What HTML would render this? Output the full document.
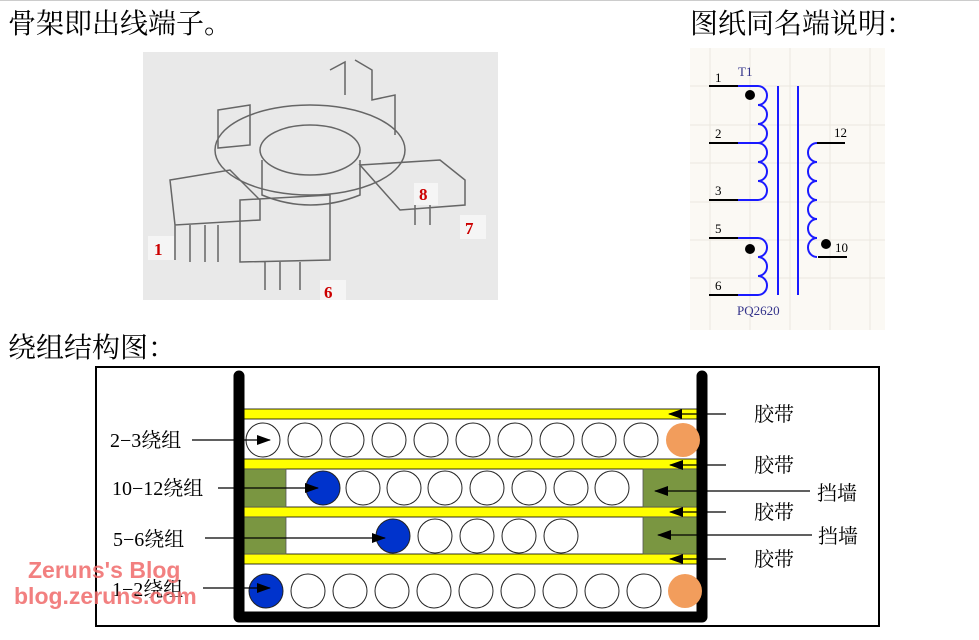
<!DOCTYPE html>
<html><head><meta charset="utf-8"><style>
body{margin:0;background:#fff;width:979px;height:640px;overflow:hidden;}
svg{display:block}
text{font-family:"Liberation Serif","Noto Serif CJK SC",serif;}
</style></head><body>
<svg width="979" height="640" viewBox="0 0 979 640" xmlns="http://www.w3.org/2000/svg">
<defs>
<marker id="ah" markerWidth="14" markerHeight="10" refX="13" refY="5" orient="auto" markerUnits="userSpaceOnUse"><path d="M0,0 L14,5 L0,10 z" fill="#000"/></marker>
</defs>
<line x1="0" y1="0.5" x2="979" y2="0.5" stroke="#ccc"/>
<text x="8" y="33" font-size="28">骨架即出线端子。</text>
<text x="690" y="33" font-size="28">图纸同名端说明：</text>
<text x="8" y="357" font-size="28">绕组结构图：</text>

<!-- photo -->
<rect x="143" y="52" width="355" height="248" fill="#e9e9e9"/>
<g fill="none" stroke="#666" stroke-width="1.5">
<ellipse cx="310" cy="150" rx="95" ry="45"/>
<ellipse cx="310" cy="150" rx="50" ry="25"/>
<path d="M262,160 L262,195 Q310,215 360,195 L360,160"/>
<path d="M218,110 L250,105 L250,145 L218,148 z M330,70 L345,62 L345,95 M355,60 L372,70 L372,100 L395,95 L395,135"/>
<path d="M170,180 L230,170 L260,200 L260,220 L175,225 z M175,225 L175,260 M190,225 L190,262 M205,225 L205,262 M218,225 L218,262"/>
<path d="M240,200 L330,195 L330,260 L240,262 z M265,262 L265,290 M280,262 L280,290 M300,262 L300,290"/>
<path d="M360,165 L440,160 L465,180 L465,205 L400,210 z M415,205 L415,225 M430,205 L430,225"/>
</g>
<rect x="148" y="236" width="26" height="24" fill="#f5f5f5"/><text x="154" y="255" font-size="17" fill="#c00" font-weight="bold">1</text>
<rect x="320" y="280" width="26" height="20" fill="#f5f5f5"/><text x="324" y="298" font-size="17" fill="#c00" font-weight="bold">6</text>
<rect x="460" y="215" width="26" height="24" fill="#f5f5f5"/><text x="465" y="234" font-size="17" fill="#c00" font-weight="bold">7</text>
<rect x="414" y="183" width="24" height="22" fill="#f5f5f5"/><text x="419" y="200" font-size="17" fill="#c00" font-weight="bold">8</text>

<!-- schematic -->
<rect x="690" y="48" width="195" height="282" fill="#fbf9f4"/>
<g stroke="#ebe7df" stroke-width="1">
<line x1="710" y1="48" x2="710" y2="330"/><line x1="750" y1="48" x2="750" y2="330"/><line x1="790" y1="48" x2="790" y2="330"/><line x1="830" y1="48" x2="830" y2="330"/><line x1="870" y1="48" x2="870" y2="330"/>
<line x1="690" y1="86" x2="885" y2="86"/><line x1="690" y1="125" x2="885" y2="125"/><line x1="690" y1="163" x2="885" y2="163"/><line x1="690" y1="202" x2="885" y2="202"/><line x1="690" y1="240" x2="885" y2="240"/><line x1="690" y1="278" x2="885" y2="278"/>
</g>
<g stroke="#000" stroke-width="2">
<line x1="709" y1="86" x2="738" y2="86"/><line x1="709" y1="143" x2="738" y2="143"/><line x1="709" y1="200" x2="738" y2="200"/><line x1="709" y1="238" x2="738" y2="238"/><line x1="709" y1="295" x2="738" y2="295"/>
<line x1="817" y1="143" x2="845" y2="143"/><line x1="818" y1="257" x2="847" y2="257"/>
</g>
<g fill="none" stroke="#1a1aff" stroke-width="2">
<path d="M738,86 L758,86 a9,9.5 0 0 1 0,19 a9,9.5 0 0 1 0,19 a9,9.5 0 0 1 0,19 a9,9.5 0 0 1 0,19 a9,9.5 0 0 1 0,19 a9,9.5 0 0 1 0,19 L738,200 M738,143 L758,143"/>
<path d="M738,238 L758,238 a9,9.5 0 0 1 0,19 a9,9.5 0 0 1 0,19 a9,9.5 0 0 1 0,19 L738,295"/>
<path d="M817,143 a9,9.5 0 0 0 0,19 a9,9.5 0 0 0 0,19 a9,9.5 0 0 0 0,19 a9,9.5 0 0 0 0,19 a9,9.5 0 0 0 0,19 a9,9.5 0 0 0 0,19"/>
<line x1="778" y1="86" x2="778" y2="295"/><line x1="798" y1="86" x2="798" y2="295"/>
</g>
<circle cx="750" cy="95" r="5" fill="#000"/><circle cx="750" cy="249" r="5" fill="#000"/><circle cx="826" cy="244" r="5" fill="#000"/>
<g font-size="13" fill="#000"><text x="715" y="82">1</text><text x="715" y="138">2</text><text x="715" y="195">3</text><text x="715" y="233">5</text><text x="715" y="290">6</text><text x="834" y="137">12</text><text x="835" y="252">10</text></g>
<text x="738" y="76" font-size="13" fill="#33338a">T1</text>
<text x="737" y="315" font-size="13" fill="#33338a">PQ2620</text>

<!-- winding diagram -->
<rect x="96" y="367" width="783" height="259" fill="#fff" stroke="#000" stroke-width="2"/>
<g stroke="#000" stroke-width="0.8">
<rect x="244" y="409" width="453" height="10" fill="#ff0"/>
<rect x="244" y="459" width="453" height="10" fill="#ff0"/>
<rect x="244" y="507" width="453" height="10" fill="#ff0"/>
<rect x="244" y="554" width="453" height="10" fill="#ff0"/>
</g>
<g fill="#7a9641" stroke="#555" stroke-width="0.8">
<rect x="244" y="469" width="42" height="38"/><rect x="244" y="517" width="42" height="37"/>
<rect x="643" y="469" width="54" height="38"/><rect x="643" y="517" width="54" height="37"/>
</g>
<path d="M239,376 L239,617 L702,617 L702,376" fill="none" stroke="#000" stroke-width="11" stroke-linecap="round" stroke-linejoin="round"/>
<g fill="#fff" stroke="#222" stroke-width="1">
<circle cx="263" cy="440" r="17"/><circle cx="305" cy="440" r="17"/><circle cx="347" cy="440" r="17"/><circle cx="389" cy="440" r="17"/><circle cx="431" cy="440" r="17"/><circle cx="473" cy="440" r="17"/><circle cx="515" cy="440" r="17"/><circle cx="557" cy="440" r="17"/><circle cx="599" cy="440" r="17"/><circle cx="641" cy="440" r="17"/>
<circle cx="683" cy="440" r="17" fill="#f29d5c" stroke="none"/>
<circle cx="323" cy="488" r="17" fill="#0033cc"/><circle cx="363" cy="488" r="17"/><circle cx="404" cy="488" r="17"/><circle cx="445" cy="488" r="17"/><circle cx="487" cy="488" r="17"/><circle cx="529" cy="488" r="17"/><circle cx="571" cy="488" r="17"/><circle cx="612" cy="488" r="17"/>
<circle cx="393" cy="536" r="17" fill="#0033cc"/><circle cx="435" cy="536" r="17"/><circle cx="477" cy="536" r="17"/><circle cx="519" cy="536" r="17"/><circle cx="561" cy="536" r="17"/>
<circle cx="266" cy="591" r="17" fill="#0033cc"/><circle cx="308" cy="591" r="17"/><circle cx="350" cy="591" r="17"/><circle cx="392" cy="591" r="17"/><circle cx="434" cy="591" r="17"/><circle cx="476" cy="591" r="17"/><circle cx="518" cy="591" r="17"/><circle cx="560" cy="591" r="17"/><circle cx="602" cy="591" r="17"/><circle cx="644" cy="591" r="17"/>
<circle cx="685" cy="591" r="17" fill="#f29d5c" stroke="none"/>
</g>
<g stroke="#000" stroke-width="1.2" marker-end="url(#ah)">
<line x1="192" y1="440" x2="270" y2="440"/>
<line x1="218" y1="488" x2="318" y2="488"/>
<line x1="205" y1="538" x2="385" y2="538"/>
<line x1="203" y1="588" x2="270" y2="588"/>
<line x1="726" y1="414" x2="669" y2="414"/>
<line x1="726" y1="465" x2="670" y2="465"/>
<line x1="726" y1="512" x2="670" y2="512"/>
<line x1="726" y1="559" x2="670" y2="559"/>
<line x1="810" y1="491" x2="655" y2="491"/>
<line x1="812" y1="535" x2="658" y2="535"/>
</g>
<g font-size="20">
<text x="110" y="447">2−3绕组</text>
<text x="112" y="495">10−12绕组</text>
<text x="113" y="546">5−6绕组</text>
<text x="112" y="596">1−2绕组</text>
<text x="754" y="421">胶带</text><text x="754" y="472">胶带</text><text x="754" y="519">胶带</text><text x="754" y="566">胶带</text>
<text x="817" y="500">挡墙</text><text x="818" y="543">挡墙</text>
</g>
<g font-weight="bold" font-size="23" fill="#f06b6b" opacity="0.85">
<text x="28" y="578" style="font-family:'Liberation Sans',sans-serif">Zeruns's Blog</text>
<text x="14" y="604" style="font-family:'Liberation Sans',sans-serif">blog.zeruns.com</text>
</g>
</svg>
</body></html>
